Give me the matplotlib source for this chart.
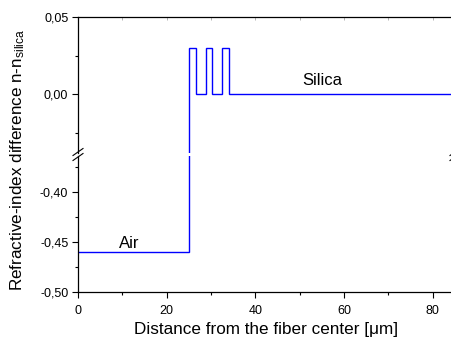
import numpy as np
import matplotlib.pyplot as plt
from matplotlib.ticker import MultipleLocator, FuncFormatter
from matplotlib.lines import Line2D

plt.rcParams['font.family'] = ['Liberation Sans', 'DejaVu Sans']
plt.rcParams['mathtext.fontset'] = 'custom'
plt.rcParams['mathtext.rm'] = 'Liberation Sans'
plt.rcParams['mathtext.it'] = 'Liberation Sans:italic'

# step profile of the fiber (edges in um, index difference in between)
edges = [0, 25, 26.5, 28.8, 30.3, 32.5, 34.0, 85]
dn = [-0.46, 0.03, 0.0, 0.03, 0.0, 0.03, 0.0]

blue = "#0000FF"

fig = plt.figure(figsize=(4.52, 3.43), dpi=100)

left = 78/452
width = (455-78)/452
ax_top = fig.add_axes([left, 1-153/343, width, 136/343])
ax_bot = fig.add_axes([left, 1-292/343, width, 136/343])

comma = FuncFormatter(lambda v, p: ("%.2f" % v).replace(".", ","))

for ax in (ax_top, ax_bot):
    ax.stairs(dn, edges, baseline=None, color=blue, lw=1.0)
    ax.set_xlim(0, 85)
    ax.spines['right'].set_visible(False)
    ax.yaxis.set_major_formatter(comma)
    ax.tick_params(axis='y', which='major', direction='out', length=4, width=0.8, labelsize=9, pad=3)
    ax.tick_params(axis='y', which='minor', direction='out', length=2, width=0.8)
    for s in ax.spines.values():
        s.set_linewidth(0.9)

ax_top.set_ylim(-0.0383, 0.05)
ax_top.yaxis.set_major_locator(MultipleLocator(0.05))
ax_top.yaxis.set_minor_locator(MultipleLocator(0.025))
ax_top.spines['bottom'].set_visible(False)
ax_top.xaxis.set_major_locator(MultipleLocator(20))
ax_top.xaxis.set_minor_locator(MultipleLocator(10))
ax_top.tick_params(axis='x', which='both', bottom=False, labelbottom=False,
                   top=True, direction='in', length=2, width=0.5, color='#999999')

ax_bot.set_ylim(-0.50, -0.364)
ax_bot.yaxis.set_major_locator(MultipleLocator(0.05))
ax_bot.yaxis.set_minor_locator(MultipleLocator(0.025))
ax_bot.spines['top'].set_visible(False)
ax_bot.xaxis.set_major_locator(MultipleLocator(20))
ax_bot.xaxis.set_minor_locator(MultipleLocator(10))
ax_bot.tick_params(axis='x', which='major', direction='out', length=4, width=0.8, labelsize=9, pad=5)
ax_bot.tick_params(axis='x', which='minor', direction='out', length=2, width=0.8)

ax_top.text(55, 0.004, "Silica", fontsize=12, ha='center', va='bottom')
ax_bot.text(11.5, -0.4585, "Air", fontsize=12, ha='center', va='bottom')

ax_bot.set_xlabel("Distance from the fiber center [μm]", fontsize=12.3, labelpad=4)
fig.text(0.038, 0.535, "Refractive-index difference n-n$_{\\mathrm{silica}}$", fontsize=12.3,
         rotation=90, ha='center', va='center')

# break marks
for xp in (78, 455):
    for dy in (-2.5, 2.5):
        y0 = 343 - (154.5 + dy)
        fig.add_artist(Line2D([(xp-5)/452, (xp+5)/452], [(y0-3.5)/343, (y0+3.5)/343],
                              color='black', lw=0.8, transform=fig.transFigure))

fig.savefig("out.png", dpi=100)
